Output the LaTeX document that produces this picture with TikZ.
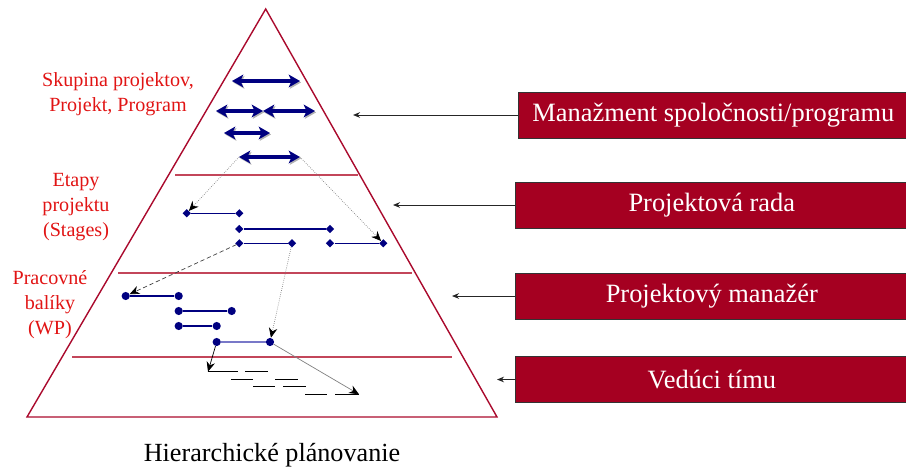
\documentclass[tikz,border=0pt]{standalone}
\usepackage{fontspec}
\setmainfont{Liberation Serif}
\usetikzlibrary{arrows.meta,shapes.geometric}
\definecolor{pyrred}{RGB}{170,10,45}
\definecolor{linered}{RGB}{195,70,90}
\definecolor{labelred}{RGB}{225,20,20}
\definecolor{boxred}{RGB}{165,0,33}
\definecolor{navy}{RGB}{0,0,128}
\definecolor{lightnavy}{RGB}{120,120,200}
\tikzset{
  pyrline/.style={draw=pyrred, line width=1pt},
  levelline/.style={draw=linered, line width=1pt},
  levellabel/.style={text=labelred, align=center, font=\fontsize{14.3}{17.7}\selectfont},
  planbar/.style={navy, line width=2.8pt,
    preaction={draw=gray!60, transform canvas={shift={(0.8pt,-1pt)}}},
    {Stealth[length=8pt,width=9pt,inset=2pt]}-{Stealth[length=8pt,width=9pt,inset=2pt]}},
  dmark/.style={diamond, fill=navy, inner sep=0pt, minimum size=6pt},
  cmark/.style={circle, fill=navy, inner sep=0pt, minimum size=5.8pt},
  tiebar/.style={navy, line width=0.9pt},
  taskbar/.style={black, line width=0.9pt},
  linktip/.style={-{Stealth[color=black,length=7pt,width=6pt]}},
  roleitem/.style={draw=black!80, fill=boxred, text=white, anchor=west,
    font=\fontsize{18.8}{22}\selectfont, minimum height=1.15cm, inner sep=0pt},
  rolearrow/.style={-{Stealth[length=5pt,width=4pt]}, black!85, line width=0.6pt}
}
\begin{document}
\begin{tikzpicture}[x=0.025cm, y=-0.025cm]
          \useasboundingbox (0,0) rectangle (906,473);
          % pyramid and levels
          \draw[pyrline] (265.7,9) -- (497,417) -- (27,417) -- cycle;
          \draw[levelline] (175,175) -- (358,175);
          \draw[levelline] (118,273) -- (412,273);
          \draw[levelline] (72,357) -- (452,357);
          % level labels
          \node[levellabel] (lblprog) at (118,94) {Skupina projektov,\\Projekt, Program};
          \node[levellabel] (lblstage) at (76,207) {Etapy\\projektu\\(Stages)};
          \node[levellabel] (lblwp) at (50,305) {Pracovné\\balíky\\(WP)};
          \node[font=\fontsize{18.6}{22}\selectfont] (title) at (272,455) {Hierarchické plánovanie};
          % program bars
          \coordinate (p4a) at (239,157);
          \coordinate (p4b) at (300,157);
          \draw[planbar] (232,81) -- (300,81);
          \draw[planbar] (216,111) -- (263,111);
          \draw[planbar] (263,111) -- (315,111);
          \draw[planbar] (224,133) -- (270,133);
          \draw[planbar] (p4a) -- (p4b);
          % stages
          \node[dmark] (s1a) at (186.7,213.3) {};
          \node[dmark] (s1b) at (239.3,213.3) {};
          \node[dmark] (s2a) at (239.3,229) {};
          \node[dmark] (s2b) at (330,229) {};
          \node[dmark] (s3a) at (239.3,243.3) {};
          \node[dmark] (s3b) at (292,243.3) {};
          \node[dmark] (s4a) at (330,243.3) {};
          \node[dmark] (s4b) at (383.3,243.3) {};
          \draw[tiebar] (s1a) -- (s1b);
          \draw[tiebar] (s2a) -- (s2b);
          \draw[tiebar] (s3a) -- (s3b);
          \draw[tiebar] (s4a) -- (s4b);
          % work packages
          \node[cmark] (w1a) at (125.7,296) {};
          \node[cmark] (w1b) at (178.7,296) {};
          \node[cmark] (w2a) at (178.7,311) {};
          \node[cmark] (w2b) at (231.7,311) {};
          \node[cmark] (w3a) at (178.7,326) {};
          \node[cmark] (w3b) at (216.7,326) {};
          \node[cmark] (w4a) at (216.7,342) {};
          \node[cmark] (w4b) at (270,342) {};
          \draw[tiebar] (w1a) -- (w1b);
          \draw[tiebar] (w2a) -- (w2b);
          \draw[tiebar] (w3a) -- (w3b);
          \draw[tiebar, lightnavy, line width=1.4pt] (w4a) -- (w4b);
          % team tasks
          \coordinate (t1) at (208,371.7);
          \coordinate (t8) at (359,394.3);
          \foreach \xa/\xb/\yy in {208/238/371.7, 245/268/371.7, 231/253/379.3, 275/298/379.3,
                                   253/275/386.7, 283/306/386.7, 305/327/394.3, 335/359/394.3}
            \draw[taskbar] (\xa,\yy) -- (\xb,\yy);
          % links between levels
          \draw[linktip, gray, densely dotted, line width=0.5pt] (p4a) -- (s1a);
          \draw[linktip, gray, densely dotted, line width=0.5pt] (p4b) -- (s4b);
          \draw[linktip, black!75, densely dashed, line width=0.5pt] (s3a) -- (w1a);
          \draw[linktip, gray, densely dotted, line width=0.5pt] (s3b) -- (w4b);
          \draw[linktip, black, line width=0.5pt] (w4a) -- (t1);
          \draw[linktip, gray, line width=0.5pt] (w4b) -- (t8);
          % roles
          \node[roleitem, minimum width=9.75cm] (role1) at (518,115) {Manažment spoločnosti/programu};
          \node[roleitem, minimum width=9.825cm] (role2) at (515,205) {Projektová rada};
          \node[roleitem, minimum width=9.825cm] (role3) at (515,296) {Projektový manažér};
          \node[roleitem, minimum width=9.825cm] (role4) at (515,379.5) {Vedúci tímu};
          \coordinate (aim1) at (353,115);
          \coordinate (aim2) at (393,205);
          \coordinate (aim3) at (452,296);
          \coordinate (aim4) at (497,379.5);
          \draw[rolearrow] (role1) -- (aim1);
          \draw[rolearrow] (role2) -- (aim2);
          \draw[rolearrow] (role3) -- (aim3);
          \draw[rolearrow] (role4) -- (aim4);
        \end{tikzpicture}
\end{document}
